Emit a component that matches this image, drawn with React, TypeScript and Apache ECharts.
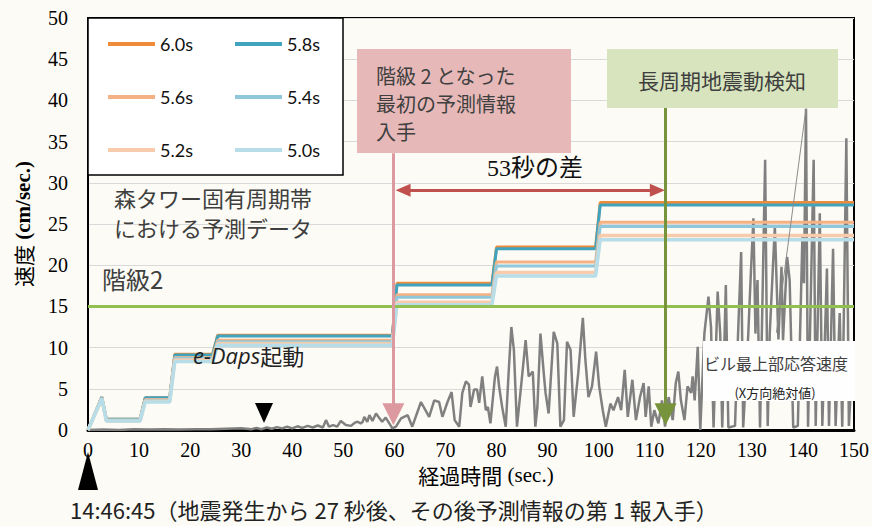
import React, { useEffect, useRef } from 'react';
import * as echarts from 'echarts';

const legendNames = ['6.0s', '5.8s', '5.6s', '5.4s', '5.2s', '5.0s'];
const lineColors = ['#ef8c3c', '#40a4be', '#f4b183', '#8ec8da', '#f8cbad', '#b7dee8'];

// time stamps (sec.) of the prediction step data
const stepTimes = [0, 2.7, 3.6, 10.2, 11.2, 16.0, 17.0, 24.4, 25.4, 59.6, 60.5, 79.1, 80.0, 99.4, 100.3, 150];
const pred60 = [0, 4.0, 1.3, 1.3, 3.9, 3.9, 9.2, 9.2, 11.5, 11.5, 17.8, 17.8, 22.2, 22.2, 27.6, 27.6];
const pred58 = [0, 4.0, 1.3, 1.3, 3.9, 3.9, 9.1, 9.1, 11.4, 11.4, 17.6, 17.6, 22.0, 22.0, 27.3, 27.3];
const pred56 = [0, 3.9, 1.2, 1.2, 3.7, 3.7, 8.8, 8.8, 10.9, 10.9, 16.4, 16.4, 20.4, 20.4, 25.2, 25.2];
const pred54 = [0, 3.9, 1.2, 1.2, 3.6, 3.6, 8.7, 8.7, 10.7, 10.7, 16.1, 16.1, 19.9, 19.9, 24.7, 24.7];
const pred52 = [0, 3.8, 1.1, 1.1, 3.5, 3.5, 8.5, 8.5, 10.5, 10.5, 15.5, 15.5, 19.1, 19.1, 23.6, 23.6];
const pred50 = [0, 3.8, 1.1, 1.1, 3.4, 3.4, 8.3, 8.3, 10.3, 10.3, 15.2, 15.2, 18.7, 18.7, 23.1, 23.1];
const predictions = [pred60, pred58, pred56, pred54, pred52, pred50];

// building top response speed (X direction, absolute) [sec., cm/sec.]
const response: number[][] = [
  [0, 0], [3, 0.05], [6, 0], [9, 0.1], [12, 0.05], [15, 0.1], [18, 0.05], [21, 0.1], [24, 0.1], [27, 0.15],
  [30, 0.2], [32, 0.1], [33, 0.25], [34, 0.1], [35, 0.3], [36, 0.15], [37, 0.35], [38, 0.2], [39, 0.4], [40, 0.2],
  [41, 0.45], [42, 0.25], [43, 0.5], [44, 0.3], [45, 0.55], [46, 0.3], [46.6, 1.2], [47.2, 0.4], [48, 0.6], [48.8, 0.4],
  [49.5, 1.1], [50.5, 0.6], [51.5, 0.5], [52.3, 0.9], [52.8, 1.0], [53.4, 0.8], [53.8, 1.0], [54.1, 1.6], [54.7, 1.0],
  [55.1, 1.8], [55.7, 1.1], [56.4, 2.0], [57, 1.5], [57.6, 1.0], [58.3, 1.5], [59, 0.8], [59.6, 0.2], [60.3, 0.4],
  [61.3, 1.4], [62.6, 1.8], [63.5, 0.4], [65.2, 3.4], [66.8, 1.6], [67.8, 3.6], [68.75, 3.4], [69.4, 1.6], [70.4, 3.4],
  [71.2, 4.6], [71.8, 1.2], [72.7, 0.4], [73.3, 4.5], [74, 5.9], [74.6, 5.5], [74.9, 2.8], [75.6, 4.9], [76.2, 4.9],
  [76.6, 3.3], [77.2, 6.5], [77.9, 2.4], [78.3, 2.8], [78.8, 0.8], [79.7, 6.5], [80.1, 7.7], [80.5, 5.3], [81.1, 2.8],
  [81.8, 0.4], [82.4, 7.3], [82.9, 12.5], [83.4, 9.7], [84, 0.4], [84.9, 5.9], [85.7, 10.9], [86.3, 6.5], [87.1, 7.1],
  [87.6, 0.4], [88, 2.8], [88.6, 11.7], [89.3, 6.5], [89.6, 4.5], [90.2, 2.0], [91.2, 11.9], [91.9, 10.5], [92.5, 0.4],
  [93.2, 1.2], [93.8, 10.7], [94.5, 9.7], [95.1, 1.6], [96, 6.9], [96.9, 13.6], [97.4, 8.5], [98, 4.0], [98.7, 5.3],
  [99.5, 9.5], [100.1, 5.3], [100.8, 2.4], [101.4, 0.4], [102.3, 3.2], [102.9, 2.4], [103.8, 4.0], [104.4, 2.4],
  [105.1, 7.3], [105.7, 1.6], [106.6, 6.1], [107.3, 1.2], [108.1, 4.0], [108.8, 5.7], [109.2, 1.6], [109.8, 5.3],
  [110.3, 0.4], [110.9, 2.4], [111.7, 0.8], [112.4, 3.6], [113, 0.4], [113.7, 4.0], [114.5, 1.2], [115.1, 5.7],
  [115.6, 7.1], [116.1, 3.6], [116.8, 1.2], [117.4, 5.3], [118.1, 4.5], [118.4, 6.5], [118.8, 3.6], [119.4, 10.1],
  [119.9, 0], [120.7, 11.7], [121.5, 16.2], [122, 12.5], [122.5, 0.3], [123.3, 16.8], [123.8, 11.7], [124.2, 0.3],
  [124.9, 17.6], [125.4, 0.3], [126.7, 0.5], [127.3, 11.7], [127.9, 21.6], [128.3, 0.3], [129.3, 11.7], [129.8, 19],
  [130.3, 25.7], [130.7, 11.7], [131.1, 18.2], [131.6, 0.3], [132.6, 32.8], [133.1, 0.5], [133.5, 11.7], [134.5, 24.7],
  [135.2, 11.0], [135.8, 19.8], [136.1, 10.9], [136.9, 21], [137.4, 18.2], [138.1, 0.3], [139, 0.5], [139.9, 23.5],
  [140.2, 17.8], [140.6, 39], [141, 0.4], [142.1, 32.8], [142.5, 0.5], [143.3, 26.3], [143.8, 0.5], [144.7, 19.6],
  [145.1, 0.5], [145.9, 22], [146.4, 0.5], [147.2, 14.2], [147.7, 0.4], [148.5, 35.4], [149, 0.5], [149.8, 10],
];

const level2 = 15;
const firstInfoTime = 59.8;
const detectTime = 113.1;

const CJK = "'Noto Sans CJK JP', sans-serif";
const SERIF = "'Liberation Serif', 'Times New Roman', serif";
const TXT = '#3f3f3f';

export default function App() {
  const ref = useRef<HTMLDivElement>(null);
  useEffect(() => {
    if (!ref.current) return;
    const chart = echarts.init(ref.current, undefined, { renderer: 'svg' });
    const stepSeries = legendNames.map((name, i) => ({
      name,
      type: 'line',
      data: stepTimes.map((t, k) => [t, predictions[i][k]]),
      symbol: 'none',
      showSymbol: false,
      lineStyle: { color: lineColors[i], width: i >= 4 ? 3.5 : 3 },
      itemStyle: { color: lineColors[i] },
      z: 3,
      silent: true,
    }));
    const option: any = {
      animation: false,
      backgroundColor: '#fcfbf5',
      grid: { left: 88, right: 16, top: 18, bottom: 96, show: true, borderColor: '#000', borderWidth: 2, backgroundColor: 'transparent' },
      legend: {
        data: legendNames.map((n, i) => ({ name: n, itemStyle: { color: lineColors[i] } })),
        left: 88,
        top: 18,
        width: 280,
        orient: 'horizontal',
        padding: [12, 6, 11, 20],
        itemGap: 25,
        itemWidth: 47,
        itemHeight: 4,
        icon: 'rect',
        backgroundColor: '#ffffff',
        borderColor: '#000',
        borderWidth: 1.5,
        selectedMode: false,
        textStyle: { fontFamily: 'Lato, sans-serif', fontSize: 18, color: '#111', width: 50, lineHeight: 28 },
      },
      xAxis: {
        type: 'value', min: 0, max: 150, interval: 10,
        axisLine: { show: true, onZero: false, lineStyle: { color: '#000', width: 3 } },
        axisTick: { show: false },
        splitLine: { show: false },
        axisLabel: { color: '#000', fontFamily: SERIF, fontSize: 20, margin: 10 },
        name: '{a|経過時間}{b| (sec.)}',
        nameLocation: 'middle',
        nameGap: 34,
        nameTextStyle: {
          padding: [0, 0, 0, 30],
          rich: {
            a: { fontFamily: CJK, fontSize: 21, color: '#000' },
            b: { fontFamily: SERIF, fontSize: 21, color: '#000' },
          },
        },
      },
      yAxis: {
        type: 'value', min: 0, max: 50, interval: 5,
        axisLine: { show: true, lineStyle: { color: '#000', width: 2 } },
        axisTick: { show: false },
        splitLine: { show: true, lineStyle: { color: '#d9d9d9', width: 1 } },
        axisLabel: { color: '#000', fontFamily: SERIF, fontSize: 20, margin: 20 },
        name: '{a|速度}{b| (cm/sec.)}',
        nameLocation: 'middle',
        nameGap: 55,
        nameRotate: 90,
        nameTextStyle: {
          rich: {
            a: { fontFamily: CJK, fontSize: 21, color: '#000' },
            b: { fontFamily: SERIF, fontSize: 21, color: '#000', fontWeight: 'bold' },
          },
        },
      },
      series: [
        {
          name: 'ビル最上部応答速度',
          type: 'line',
          data: response,
          symbol: 'none',
          showSymbol: false,
          lineStyle: { color: '#808080', width: 2.5 },
          z: 2,
          silent: true,
          markLine: {
            silent: true,
            symbol: 'none',
            label: { show: false },
            animation: false,
            data: [
              { yAxis: level2, lineStyle: { color: '#92c050', width: 3, type: 'solid' } },
              [
                { coord: [134.8, 11.8], symbol: 'none', lineStyle: { color: '#8c8c8c', width: 1, type: 'solid' } },
                { coord: [140.6, 39], symbol: 'none' },
              ],
              [
                { coord: [firstInfoTime, 33.6], symbol: 'none', lineStyle: { color: '#dc9aa0', width: 3, type: 'solid' } },
                { coord: [firstInfoTime, 1.9], symbol: 'triangle', symbolSize: [22, 22] },
              ],
              [
                { coord: [detectTime, 39.1], symbol: 'none', lineStyle: { color: '#77933c', width: 3, type: 'solid' } },
                { coord: [detectTime, 1.9], symbol: 'triangle', symbolSize: [22, 22] },
              ],
              [
                { coord: [61.7, 29.1], symbol: 'triangle', symbolSize: [13, 15], lineStyle: { color: '#c0504d', width: 3, type: 'solid' } },
                { coord: [111.5, 29.1], symbol: 'triangle', symbolSize: [13, 15] },
              ],
            ],
          },
        },
        ...stepSeries,
      ],
      graphic: {
        elements: [
          { type: 'rect', z: 20, shape: { x: 357, y: 49, width: 214, height: 104 }, style: { fill: '#e6b9b8' } },
          {
            type: 'text', z: 21, x: 376, y: 61,
            style: { text: '階級 2 となった\n最初の予測情報\n入手', fontFamily: CJK, fontSize: 20, lineHeight: 28, fill: TXT },
          },
          { type: 'rect', z: 20, shape: { x: 607, y: 49, width: 231, height: 59 }, style: { fill: '#d7e4bd' } },
          {
            type: 'text', z: 21, x: 722, y: 80,
            style: { text: '長周期地震動検知', fontFamily: CJK, fontSize: 21, fill: TXT, align: 'center', verticalAlign: 'middle' },
          },
          {
            type: 'text', z: 21, x: 114, y: 182,
            style: { text: '森タワー固有周期帯\nにおける予測データ', fontFamily: CJK, fontSize: 22, lineHeight: 30, fill: TXT },
          },
          {
            type: 'text', z: 21, x: 102, y: 278,
            style: { text: '階級2', fontFamily: CJK, fontSize: 24, fill: TXT, verticalAlign: 'middle' },
          },
          {
            type: 'text', z: 21, x: 193, y: 355,
            style: {
              text: '{i|e-Daps}{n|起動}',
              verticalAlign: 'middle',
              rich: {
                i: { fontFamily: "'Open Sans', sans-serif", fontStyle: 'italic', fontSize: 22, fill: '#222' },
                n: { fontFamily: CJK, fontSize: 22, fill: '#222' },
              },
            },
          },
          {
            type: 'text', z: 21, x: 535, y: 168,
            style: { text: '53秒の差', fontFamily: "'Liberation Serif', 'Noto Sans CJK JP', serif", fontSize: 24, fill: '#111', align: 'center', verticalAlign: 'middle' },
          },
          { type: 'rect', z: 20, shape: { x: 703, y: 341, width: 152, height: 60 }, style: { fill: '#fefefe' } },
          {
            type: 'text', z: 21, x: 776, y: 363,
            style: { text: 'ビル最上部応答速度', fontFamily: CJK, fontSize: 16, fill: TXT, align: 'center', verticalAlign: 'middle' },
          },
          {
            type: 'text', z: 21, x: 775, y: 392,
            style: { text: '(X方向絶対値)', fontFamily: CJK, fontSize: 13, fill: '#222', align: 'center', verticalAlign: 'middle' },
          },
          { type: 'polygon', z: 21, shape: { points: [[255, 403], [273, 403], [264, 423]] }, style: { fill: '#000' } },
          { type: 'polygon', z: 21, shape: { points: [[88, 452], [78, 490], [98, 490]] }, style: { fill: '#000' } },
          {
            type: 'text', z: 21, x: 70, y: 509,
            style: { text: '14:46:45（地震発生から 27 秒後、その後予測情報の第 1 報入手）', fontFamily: CJK, fontSize: 22, fill: '#222', verticalAlign: 'middle' },
          },
        ],
      },
    };
    chart.setOption(option);
    return () => chart.dispose();
  }, []);
  return <div ref={ref} style={{ position: 'absolute', left: 0, top: 0, width: 872, height: 526 }} />;
}
